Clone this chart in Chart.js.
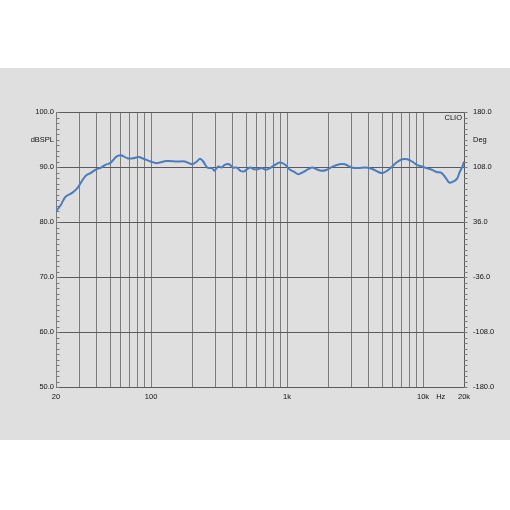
<!DOCTYPE html>
<html>
<head>
<meta charset="utf-8">
<script src="https://cdn.jsdelivr.net/npm/chart.js@4.4.1/dist/chart.umd.min.js"></script>
<style>
  html, body { margin: 0; padding: 0; background: #fff; }
  canvas { display: block; }
</style>
</head>
<body>
<canvas id="chart" width="510" height="510"></canvas>
<script>
const freqs = [
    20, 21.7, 23.5, 26.3, 28.6, 31.1, 33.4, 35.9, 39, 42.9,
    46.2, 49.9, 52.8, 55, 58, 61, 67, 73.6, 81, 88,
    99, 110, 130, 155, 177, 202, 217, 229, 242, 259,
    281, 292, 312, 330, 348, 376, 400, 427, 455, 483,
    509, 538, 571, 610, 650, 700, 760, 830, 890, 970,
    1040, 1130, 1210, 1320, 1430, 1530, 1650, 1790, 1960, 2180,
    2440, 2660, 2980, 3340, 3800, 4280, 4680, 5050, 5420, 5930,
    6450, 7020, 7660, 8300, 9000, 9800, 10600, 11600, 12600, 13700,
    14600, 15500, 16500, 17800, 18600, 19500, 20000
];
const splDb = [
    81.9, 83.1, 84.6, 85.3, 86.1, 87.5, 88.5, 88.9, 89.5, 89.9,
    90.4, 90.7, 91.3, 91.8, 92.1, 92.1, 91.6, 91.6, 91.8, 91.5,
    91.0, 90.7, 91.1, 91.0, 91.0, 90.5, 91.0, 91.5, 91.0, 89.9,
    89.8, 89.3, 90.1, 89.9, 90.4, 90.5, 89.9, 89.9, 89.3, 89.2,
    89.6, 89.9, 89.6, 89.6, 89.8, 89.5, 89.9, 90.5, 90.8, 90.4,
    89.6, 89.1, 88.7, 89.1, 89.6, 89.9, 89.6, 89.3, 89.5, 90.1,
    90.5, 90.5, 89.9, 89.8, 89.9, 89.6, 89.1, 88.9, 89.3, 90.1,
    90.9, 91.4, 91.4, 91.0, 90.4, 90.1, 89.8, 89.5, 89.1, 88.9,
    88.1, 87.2, 87.3, 87.9, 89.1, 90.1, 91.0
];

// axes
const gridFreqs = [30, 40, 50, 60, 70, 80, 90, 100, 200, 300, 400, 500, 600, 700, 800, 900,
    1000, 2000, 3000, 4000, 5000, 6000, 7000, 8000, 9000, 10000];
const labelFreqs = [20, 100, 1000, 10000, 13500, 20000];
const labelTexts = ['20', '100', '1k', '10k', 'Hz', '20k'];
const splTicks = [50, 60, 70, 80, 90, 100];
const splUnitAt = 95;
const phaseTicks = [-180, -108, -36, 36, 108, 180];
const phaseUnitAt = 144;

const FONT = { family: "'Liberation Sans', Arial, sans-serif", size: 7.5 };
const TEXT = '#111';

const backdrop = {
    id: 'backdrop',
    beforeDraw(chart) {
        const ctx = chart.ctx;
        ctx.save();
        ctx.fillStyle = '#dfdfdf';
        ctx.fillRect(0, 68, chart.width, 372);
        ctx.restore();
    }
};

// small 1 dB / 7.2 deg tick marks + CLIO tag
const minorTicks = {
    id: 'minorTicks',
    beforeDatasetsDraw(chart) {
        const ctx = chart.ctx;
        const { left, right, top } = chart.chartArea;
        const y = chart.scales.y, y2 = chart.scales.y2;
        ctx.save();
        ctx.strokeStyle = '#7a7a7a';
        ctx.lineWidth = 1;
        ctx.beginPath();
        for (let v = y.min; v <= y.max; v++) {
            const py = Math.round(y.getPixelForValue(v)) + 0.5;
            ctx.moveTo(left, py);
            ctx.lineTo(left + 3.5, py);
        }
        for (let k = 0; k <= 50; k++) {
            const py = Math.round(y2.getPixelForValue(y2.min + k * 7.2)) + 0.5;
            ctx.moveTo(right, py);
            ctx.lineTo(right + 3.5, py);
        }
        ctx.stroke();
        ctx.fillStyle = TEXT;
        ctx.font = `7.5px ${FONT.family}`;
        ctx.textAlign = 'right';
        ctx.textBaseline = 'middle';
        ctx.fillText('CLIO', right - 2, top + 6);
        ctx.restore();
    }
};

const ctx = document.getElementById('chart').getContext('2d');
new Chart(ctx, {
    type: 'line',
    data: {
        datasets: [{
            data: freqs.map((f, i) => ({ x: f, y: splDb[i] })),
            borderColor: '#4a7dbd',
            borderWidth: 2,
            pointRadius: 0,
            tension: 0.3,
            fill: false
        }]
    },
    options: {
        responsive: false,
        animation: false,
        events: [],
        layout: { padding: { top: 112, left: 0, right: 0, bottom: 0 } },
        plugins: { legend: { display: false }, tooltip: { enabled: false } },
        scales: {
            x: {
                type: 'logarithmic',
                min: 20,
                max: 20000,
                afterBuildTicks: s => {
                    s.ticks = [20, ...gridFreqs, 13500, 20000].sort((a, b) => a - b).map(v => ({ value: v }));
                },
                afterFit: s => { s.height = 123; },
                grid: {
                    color: c => gridFreqs.includes(c.tick.value) ? '#7c7c7c' : 'rgba(0,0,0,0)',
                    drawTicks: false
                },
                border: { display: false },
                ticks: {
                    autoSkip: false,
                    maxRotation: 0,
                    padding: 5,
                    color: TEXT,
                    font: FONT,
                    callback: v => {
                        const i = labelFreqs.indexOf(v);
                        return i >= 0 ? labelTexts[i] : '';
                    }
                }
            },
            y: {
                position: 'left',
                min: 50,
                max: 100,
                afterBuildTicks: s => {
                    s.ticks = [...splTicks, splUnitAt].sort((a, b) => a - b).map(v => ({ value: v }));
                },
                afterFit: s => { s.width = 56; },
                grid: {
                    color: c => c.tick.value % 10 === 0 ? '#5a5a5a' : 'rgba(0,0,0,0)',
                    drawTicks: false
                },
                border: { color: '#7c7c7c' },
                ticks: {
                    padding: 2,
                    color: TEXT,
                    font: FONT,
                    callback: v => v === splUnitAt ? 'dBSPL' : v.toFixed(1)
                }
            },
            y2: {
                position: 'right',
                min: -180,
                max: 180,
                afterBuildTicks: s => {
                    s.ticks = [...phaseTicks, phaseUnitAt].sort((a, b) => a - b).map(v => ({ value: v }));
                },
                afterFit: s => { s.width = 46; },
                grid: { drawOnChartArea: false, drawTicks: false },
                border: { color: '#5a5a5a' },
                ticks: {
                    padding: 9,
                    color: TEXT,
                    font: FONT,
                    callback: v => v === phaseUnitAt ? 'Deg' : v.toFixed(1)
                }
            }
        }
    },
    plugins: [backdrop, minorTicks]
});
</script>
</body>
</html>
